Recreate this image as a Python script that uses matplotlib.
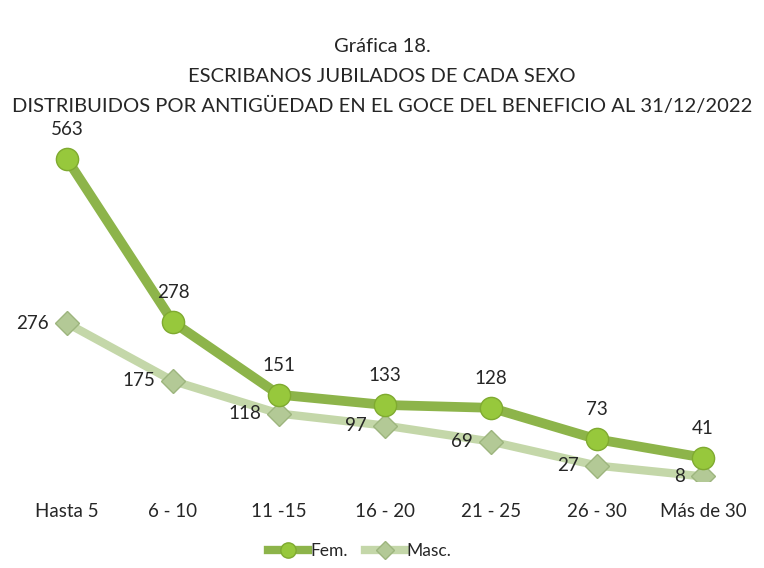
import matplotlib
matplotlib.use("Agg")
import matplotlib.pyplot as plt
from matplotlib.lines import Line2D

categories = ["Hasta 5", "6 - 10", "11 -15", "16 - 20", "21 - 25", "26 - 30", "Más de 30"]
fem = [563, 278, 151, 133, 128, 73, 41]
masc = [276, 175, 118, 97, 69, 27, 8]

plt.rcParams['font.family'] = ['Lato', 'DejaVu Sans']

W, H = 764, 568
fig = plt.figure(figsize=(W/100, H/100), dpi=100)
ax = fig.add_axes([14/W, (H-481)/H, (756-14)/W, (481-138)/H])

x = list(range(len(categories)))
fem_line = '#8DB44A'
masc_line = '#C4D7A9'
txt = '#262626'
ax.plot(x, masc, color=masc_line, lw=6, solid_capstyle='round', zorder=2,
        marker='D', ms=12, mfc='#B3C996', mec='#9DB57E', mew=1)
ax.plot(x, fem, color=fem_line, lw=7, solid_capstyle='round', zorder=3,
        marker='o', ms=16, mfc='#97C83C', mec='#7FAA30', mew=1)

for xi, v in zip(x, fem):
    ax.annotate(str(v), (xi, v), xytext=(0, 15), textcoords='offset points',
                ha='center', va='bottom', fontsize=13.5, color=txt)
for xi, v in zip(x, masc):
    ax.annotate(str(v), (xi, v), xytext=(-13, 0), textcoords='offset points',
                ha='right', va='center', fontsize=13.5, color=txt)

ax.set_xlim(-0.5, len(categories) - 0.5)
ax.set_ylim(0, 600)
ax.set_xticks(x)
ax.set_xticklabels(categories, fontsize=13.5, color=txt)
ax.tick_params(axis='x', length=0, pad=16)
ax.set_yticks([])
for s in ax.spines.values():
    s.set_visible(False)

fig.text(0.5, 1 - 46/H, "Gráfica 18.", ha='center', va='center', fontsize=14.5, color=txt)
fig.text(0.5, 1 - 77/H, "ESCRIBANOS JUBILADOS DE CADA SEXO", ha='center', va='center', fontsize=14.5, color=txt)
fig.text(0.5, 1 - 106/H, "DISTRIBUIDOS POR ANTIGÜEDAD EN EL GOCE DEL BENEFICIO AL 31/12/2022",
         ha='center', va='center', fontsize=14.5, color=txt)

handles = [
    Line2D([], [], color=fem_line, lw=6, marker='o', ms=11, mfc='#97C83C', mec='#7FAA30'),
    Line2D([], [], color=masc_line, lw=6, marker='D', ms=9, mfc='#B3C996', mec='#9DB57E'),
]
fig.legend(handles, ["Fem.", "Masc."], loc='center', bbox_to_anchor=(360/W, 1 - 551/H),
           ncol=2, frameon=False, fontsize=12.5, handlelength=2.3, columnspacing=1.0,
           handletextpad=0.1, labelcolor=txt)

fig.savefig("out.png", dpi=100)
